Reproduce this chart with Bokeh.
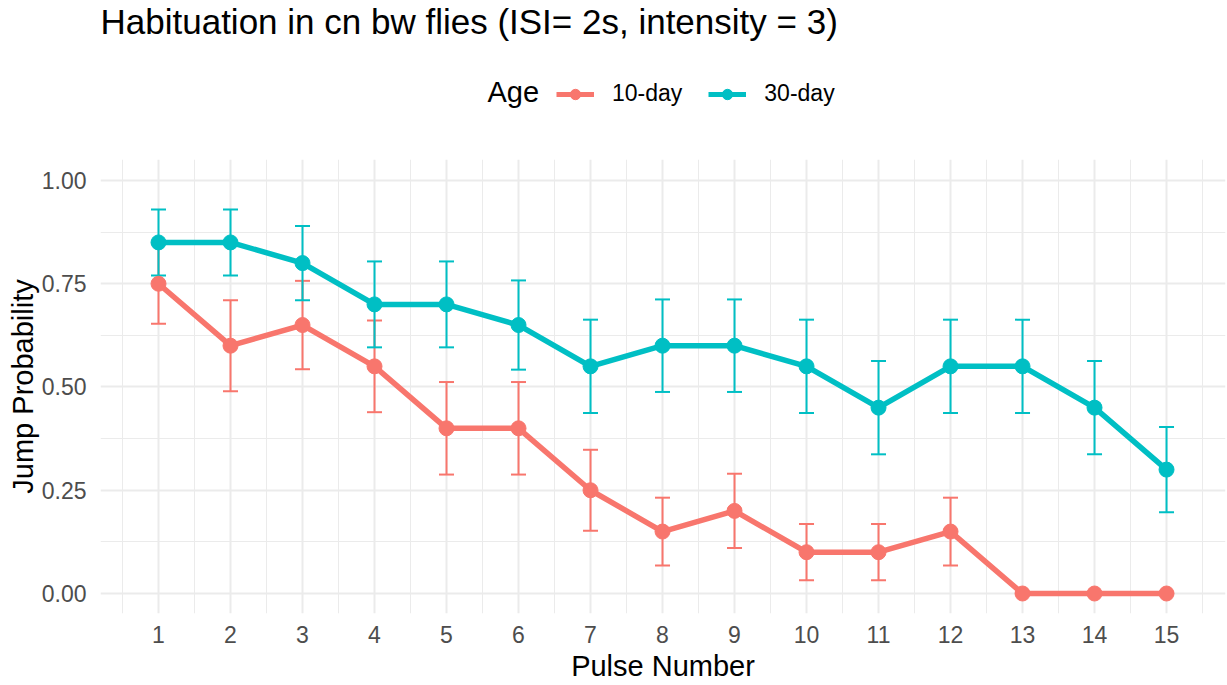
from bokeh.plotting import figure
from bokeh.layouts import column
from bokeh.models import (ColumnDataSource, Whisker, TeeHead, FixedTicker, Legend,
                          LegendItem, Range1d, Label)
from bokeh.embed import file_html
from bokeh.resources import INLINE

# ---- data ----
pulse = [1, 2, 3, 4, 5, 6, 7, 8, 9, 10, 11, 12, 13, 14, 15]
prob_10day = [0.75, 0.60, 0.65, 0.55, 0.40, 0.40, 0.25, 0.15, 0.20, 0.10, 0.10, 0.15, 0.00, 0.00, 0.00]
se_10day = [0.097, 0.110, 0.107, 0.111, 0.112, 0.112, 0.098, 0.082, 0.090, 0.068, 0.068, 0.082, 0.0, 0.0, 0.0]
prob_30day = [0.85, 0.85, 0.80, 0.70, 0.70, 0.65, 0.55, 0.60, 0.60, 0.55, 0.45, 0.55, 0.55, 0.45, 0.30]
se_30day = [0.080, 0.080, 0.090, 0.104, 0.104, 0.108, 0.113, 0.112, 0.112, 0.113, 0.113, 0.113, 0.113, 0.113, 0.103]
series_labels = ["10-day", "30-day"]
y_ticks = [0.0, 0.25, 0.5, 0.75, 1.0]
y_tick_labels = ["0.00", "0.25", "0.50", "0.75", "1.00"]
title_text = "Habituation in cn bw flies (ISI= 2s, intensity = 3)"
x_title = "Pulse Number"
y_title = "Jump Probability"
legend_title = "Age"

FONT = "Liberation Sans"
RED = "#F8766D"
CYAN = "#00BFC4"
GRID = "#EBEBEB"
W = 1227

src10 = ColumnDataSource(dict(x=pulse, y=prob_10day,
                              lo=[v - s for v, s in zip(prob_10day, se_10day)],
                              hi=[v + s for v, s in zip(prob_10day, se_10day)]))
src30 = ColumnDataSource(dict(x=pulse, y=prob_30day,
                              lo=[v - s for v, s in zip(prob_30day, se_30day)],
                              hi=[v + s for v, s in zip(prob_30day, se_30day)]))

# ================= header (title + legend) =================
HEAD_H = 159
head = figure(width=W, height=HEAD_H, output_backend="svg", toolbar_location=None,
              x_range=Range1d(-3, -2), y_range=Range1d(-3, -2),
              x_axis_location=None, y_axis_location=None,
              min_border_left=0, min_border_right=0, min_border_top=0, min_border_bottom=0)
head.grid.visible = False
head.outline_line_color = None
head.background_fill_color = "white"
head.border_fill_color = "white"

hl10 = head.line("x", "y", source=src10, line_color=RED, line_width=5)
hs10 = head.scatter("x", "y", source=src10, size=15, fill_color=RED, line_color=RED)
hl30 = head.line("x", "y", source=src30, line_color=CYAN, line_width=5)
hs30 = head.scatter("x", "y", source=src30, size=15, fill_color=CYAN, line_color=CYAN)

head.add_layout(Label(x=0, y=HEAD_H - 21, x_units="screen", y_units="screen",
                      text=title_text, text_font=FONT, text_font_size="35px",
                      text_color="black", text_align="left", text_baseline="middle"))
head.add_layout(Label(x=387, y=HEAD_H - 91, x_units="screen", y_units="screen",
                      text=legend_title, text_font=FONT, text_font_size="29px",
                      text_color="black", text_align="left", text_baseline="middle"))

legend = Legend(items=[LegendItem(label=series_labels[0], renderers=[hl10, hs10]),
                       LegendItem(label=series_labels[1], renderers=[hl30, hs30])],
                orientation="horizontal", location=(456, HEAD_H - 93 - 14),
                label_text_font=FONT, label_text_font_size="23px",
                label_text_color="black", label_standoff=18,
                glyph_width=38, glyph_height=26, label_height=26, spacing=26,
                padding=0, margin=0,
                border_line_alpha=0, background_fill_alpha=0)
head.add_layout(legend, "center")

# ================= main plot =================
p = figure(width=W, height=685 - HEAD_H, output_backend="svg", toolbar_location=None,
           x_range=Range1d(0.1944, 15.819), y_range=Range1d(-0.0484, 1.0508),
           min_border_left=100, min_border_right=2, min_border_top=0,
           min_border_bottom=72)
p.outline_line_color = None
p.background_fill_color = "white"
p.border_fill_color = "white"

minor_x = [v - 0.5 for v in pulse] + [pulse[-1] + 0.5]
p.xaxis.ticker = FixedTicker(ticks=pulse, minor_ticks=minor_x)
minor_y = [(a + b) / 2 for a, b in zip(y_ticks[:-1], y_ticks[1:])]
p.yaxis.ticker = FixedTicker(ticks=y_ticks, minor_ticks=minor_y)
p.yaxis.major_label_overrides = {t: l for t, l in zip(y_ticks, y_tick_labels)}

for ax in (p.xaxis, p.yaxis):
    ax.axis_line_color = None
    ax.major_tick_line_color = None
    ax.minor_tick_line_color = None
    ax.major_tick_out = 0
    ax.major_tick_in = 0
    ax.minor_tick_out = 0
    ax.major_label_text_font = FONT
    ax.major_label_text_font_size = "23px"
    ax.major_label_text_color = "#4D4D4D"
    ax.axis_label_text_font = FONT
    ax.axis_label_text_font_size = "29px"
    ax.axis_label_text_font_style = "normal"
    ax.axis_label_text_color = "black"

p.xaxis.axis_label = x_title
p.yaxis.axis_label = y_title
p.xaxis.major_label_text_line_height = 1.0
p.xaxis.axis_label_text_line_height = 1.0
p.xaxis.major_label_standoff = 12
p.xaxis.axis_label_standoff = 4
p.yaxis.major_label_standoff = 14
p.yaxis.axis_label_standoff = 0

for g in (p.xgrid, p.ygrid):
    g.grid_line_color = GRID
    g.grid_line_width = 2
    g.minor_grid_line_color = GRID
    g.minor_grid_line_width = 1

# error bars (drawn under lines/points)
for src, col in ((src10, RED), (src30, CYAN)):
    w = Whisker(source=src, base="x", lower="lo", upper="hi", dimension="height",
                line_color=col, line_width=2,
                upper_head=TeeHead(size=15, line_color=col, line_width=2),
                lower_head=TeeHead(size=15, line_color=col, line_width=2))
    p.add_layout(w)

p.line("x", "y", source=src10, line_color=RED, line_width=5.5)
p.line("x", "y", source=src30, line_color=CYAN, line_width=5.5)
p.scatter("x", "y", source=src10, size=15, fill_color=RED, line_color=RED)
p.scatter("x", "y", source=src30, size=15, fill_color=CYAN, line_color=CYAN)

layout = column(head, p, spacing=0)
open("out.html", "w").write(file_html(layout, INLINE))
